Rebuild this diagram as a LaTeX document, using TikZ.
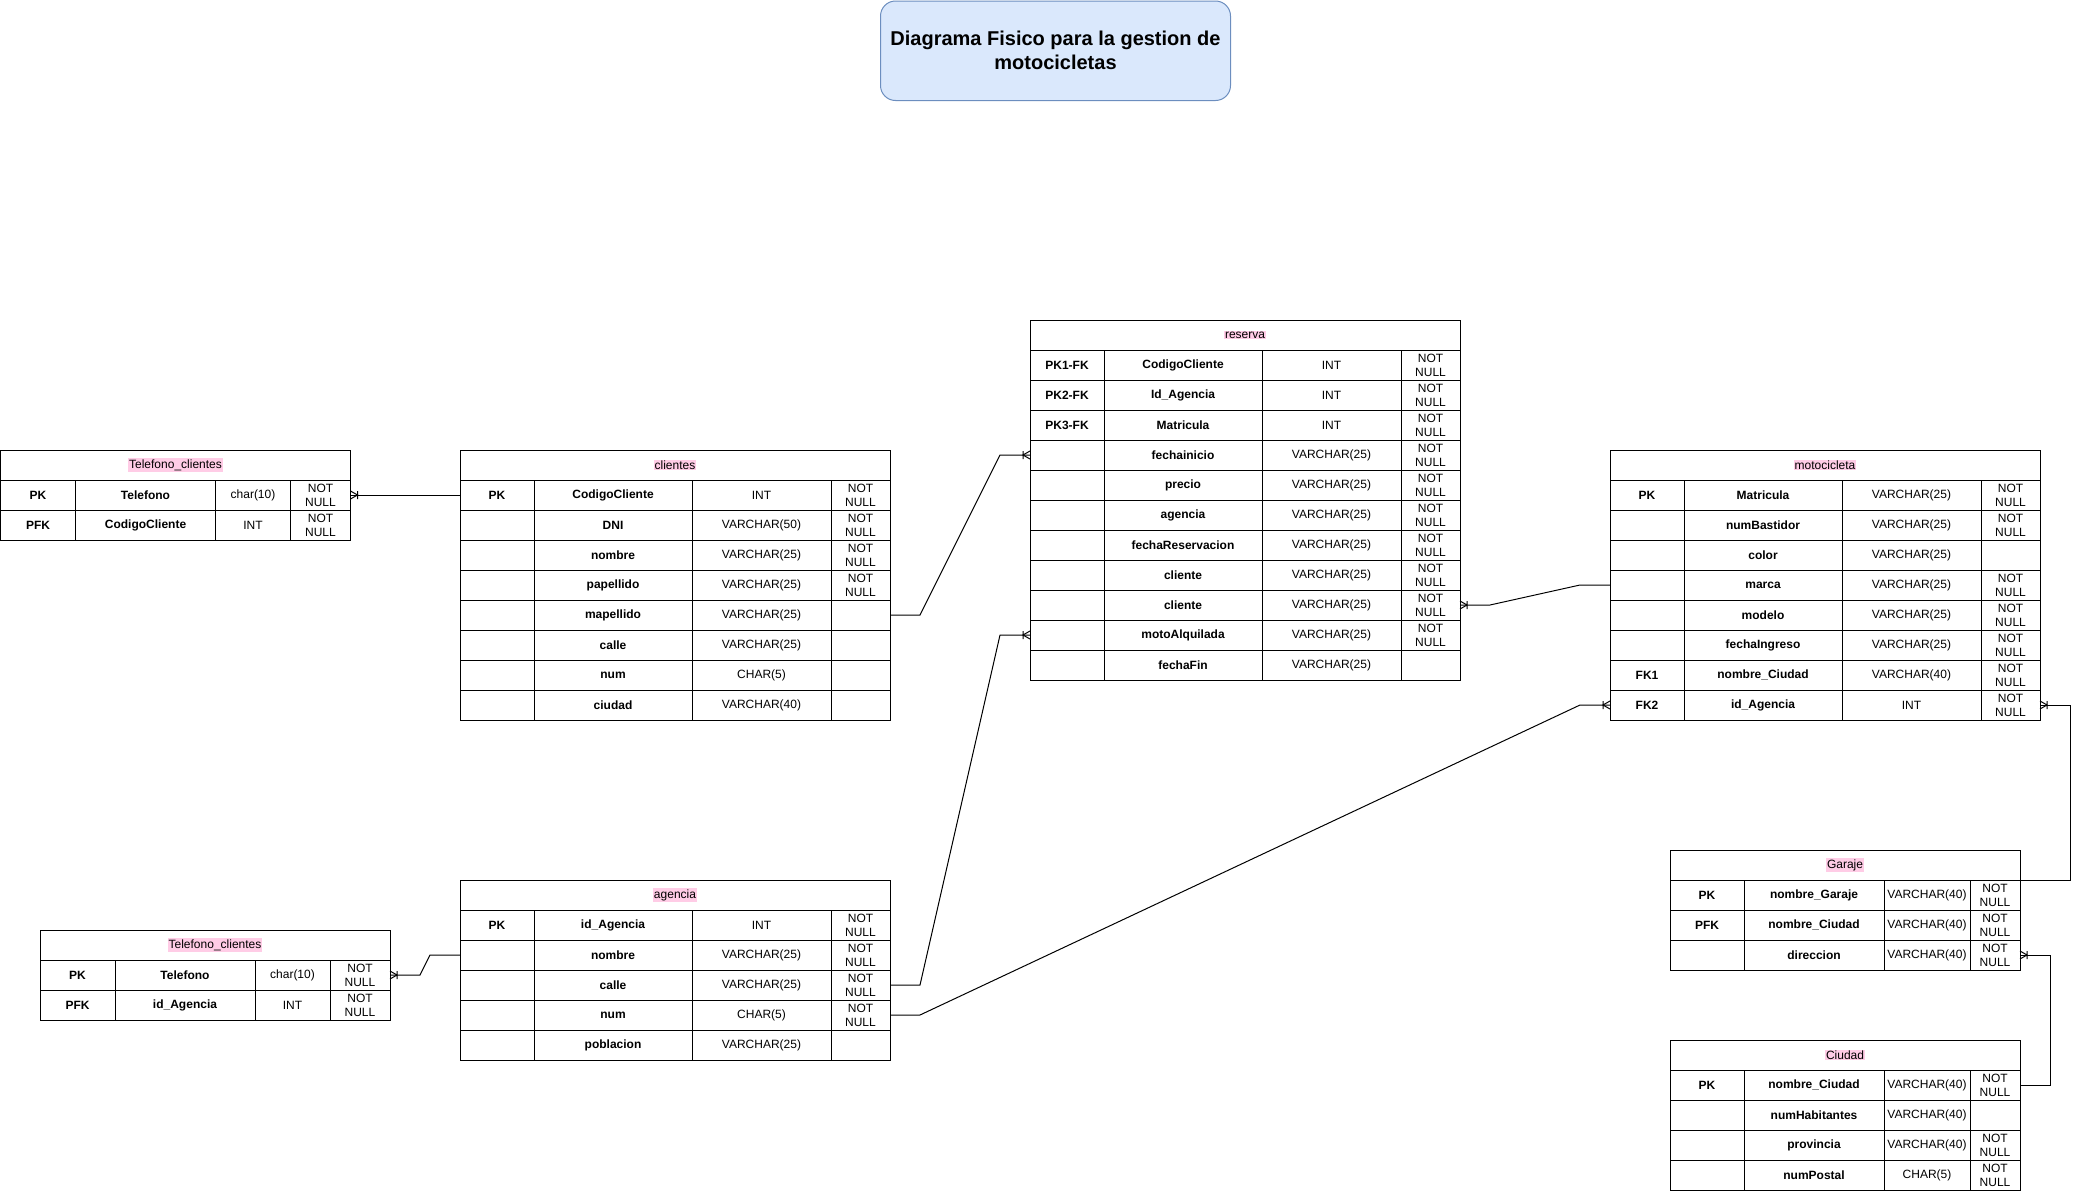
\documentclass[tikz,border=0pt]{standalone}
\usepackage{fontspec}
\setmainfont{Liberation Sans}
\usepackage{xcolor}
\usepackage{tikz}
\usetikzlibrary{positioning}

\definecolor{titlefill}{HTML}{DAE8FC}
\definecolor{titleline}{HTML}{6C8EBF}
\definecolor{tagpink}{HTML}{FFCCE6}
\setlength{\fboxsep}{1pt}

\begin{document}
\begin{tikzpicture}[x=1pt, y=-1pt,
    cell/.style={draw, line width=1pt, inner sep=0pt, outer sep=0pt, minimum height=30, align=center, font=\fontsize{12}{14}\selectfont},
    bcell/.style={cell, font=\fontsize{12}{14}\selectfont\bfseries},
    hdr/.style={cell, anchor=north west},
    link/.style={line width=1pt},
    crow/.pic={\draw[line width=1pt] (0,-4) -- (-7,0) -- (0,4) (-7,-4) -- (-7,4);}
  ]
    \useasboundingbox (0,0) rectangle (2082,1191);

    % Title
    \node[draw=titleline, fill=titlefill, line width=1pt, rounded corners=15, minimum width=350, minimum height=99.5, anchor=north west, align=center, font=\fontsize{20}{24}\selectfont\bfseries] (titulo) at (880,0.5) {Diagrama Fisico para la gestion de\\motocicletas};

    % Telefono_clientes (clientes)
    \node[hdr, minimum width=350] (tel1) at (0.5,450) {\colorbox{tagpink}{Telefono\_clientes}};
    \foreach \kc/\nc/\tc/\zc [count=\i] in {PK/Telefono/char(10)/NOT\\NULL, PFK/CodigoCliente/INT/NOT\\NULL} {
        \node[bcell, anchor=north west, minimum width=75] (tel1-k\i) at (0.5,{450+30*\i}) {\kc};
        \node[bcell, minimum width=140, right=0pt of tel1-k\i] (tel1-n\i) {\nc};
        \node[cell, minimum width=75, right=0pt of tel1-n\i] (tel1-t\i) {\tc};
        \node[cell, minimum width=60, right=0pt of tel1-t\i] (tel1-z\i) {\zc};
    }

    % clientes
    \node[hdr, minimum width=430] (clientes) at (460,450) {\colorbox{tagpink}{clientes}};
    \foreach \kc/\nc/\tc/\zc [count=\i] in {PK/CodigoCliente/INT/NOT\\NULL, /DNI/VARCHAR(50)/NOT\\NULL, /nombre/VARCHAR(25)/NOT\\NULL, /papellido/VARCHAR(25)/NOT\\NULL, /mapellido/VARCHAR(25)/, /calle/VARCHAR(25)/, /num/CHAR(5)/, /ciudad/VARCHAR(40)/} {
        \node[bcell, anchor=north west, minimum width=74] (clientes-k\i) at (460,{450+30*\i}) {\kc};
        \node[bcell, minimum width=158, right=0pt of clientes-k\i] (clientes-n\i) {\nc};
        \node[cell, minimum width=139, right=0pt of clientes-n\i] (clientes-t\i) {\tc};
        \node[cell, minimum width=59, right=0pt of clientes-t\i] (clientes-z\i) {\zc};
    }

    % reserva
    \node[hdr, minimum width=430] (reserva) at (1030,320) {\colorbox{tagpink}{reserva}};
    \foreach \kc/\nc/\tc/\zc [count=\i] in {PK1-FK/CodigoCliente/INT/NOT\\NULL, PK2-FK/Id\_Agencia/INT/NOT\\NULL, PK3-FK/Matricula/INT/NOT\\NULL, /fechainicio/VARCHAR(25)/NOT\\NULL, /precio/VARCHAR(25)/NOT\\NULL, /agencia/VARCHAR(25)/NOT\\NULL, /fechaReservacion/VARCHAR(25)/NOT\\NULL, /cliente/VARCHAR(25)/NOT\\NULL, /cliente/VARCHAR(25)/NOT\\NULL, /motoAlquilada/VARCHAR(25)/NOT\\NULL, /fechaFin/VARCHAR(25)/} {
        \node[bcell, anchor=north west, minimum width=74] (reserva-k\i) at (1030,{320+30*\i}) {\kc};
        \node[bcell, minimum width=158, right=0pt of reserva-k\i] (reserva-n\i) {\nc};
        \node[cell, minimum width=139, right=0pt of reserva-n\i] (reserva-t\i) {\tc};
        \node[cell, minimum width=59, right=0pt of reserva-t\i] (reserva-z\i) {\zc};
    }

    % motocicleta
    \node[hdr, minimum width=430] (moto) at (1610,450) {\colorbox{tagpink}{motocicleta}};
    \foreach \kc/\nc/\tc/\zc [count=\i] in {PK/Matricula/VARCHAR(25)/NOT\\NULL, /numBastidor/VARCHAR(25)/NOT\\NULL, /color/VARCHAR(25)/, /marca/VARCHAR(25)/NOT\\NULL, /modelo/VARCHAR(25)/NOT\\NULL, /fechaIngreso/VARCHAR(25)/NOT\\NULL, FK1/nombre\_Ciudad/VARCHAR(40)/NOT\\NULL, FK2/id\_Agencia/INT/NOT\\NULL} {
        \node[bcell, anchor=north west, minimum width=74] (moto-k\i) at (1610,{450+30*\i}) {\kc};
        \node[bcell, minimum width=158, right=0pt of moto-k\i] (moto-n\i) {\nc};
        \node[cell, minimum width=139, right=0pt of moto-n\i] (moto-t\i) {\tc};
        \node[cell, minimum width=59, right=0pt of moto-t\i] (moto-z\i) {\zc};
    }

    % Telefono_clientes (agencia)
    \node[hdr, minimum width=350] (tel2) at (40,930) {\colorbox{tagpink}{Telefono\_clientes}};
    \foreach \kc/\nc/\tc/\zc [count=\i] in {PK/Telefono/char(10)/NOT\\NULL, PFK/id\_Agencia/INT/NOT\\NULL} {
        \node[bcell, anchor=north west, minimum width=75] (tel2-k\i) at (40,{930+30*\i}) {\kc};
        \node[bcell, minimum width=140, right=0pt of tel2-k\i] (tel2-n\i) {\nc};
        \node[cell, minimum width=75, right=0pt of tel2-n\i] (tel2-t\i) {\tc};
        \node[cell, minimum width=60, right=0pt of tel2-t\i] (tel2-z\i) {\zc};
    }

    % agencia
    \node[hdr, minimum width=430] (agencia) at (460,880) {\colorbox{tagpink}{agencia}};
    \foreach \kc/\nc/\tc/\zc [count=\i] in {PK/id\_Agencia/INT/NOT\\NULL, /nombre/VARCHAR(25)/NOT\\NULL, /calle/VARCHAR(25)/NOT\\NULL, /num/CHAR(5)/NOT\\NULL, /poblacion/VARCHAR(25)/} {
        \node[bcell, anchor=north west, minimum width=74] (agencia-k\i) at (460,{880+30*\i}) {\kc};
        \node[bcell, minimum width=158, right=0pt of agencia-k\i] (agencia-n\i) {\nc};
        \node[cell, minimum width=139, right=0pt of agencia-n\i] (agencia-t\i) {\tc};
        \node[cell, minimum width=59, right=0pt of agencia-t\i] (agencia-z\i) {\zc};
    }

    % Garaje
    \node[hdr, minimum width=350] (garaje) at (1670,850) {\colorbox{tagpink}{Garaje}};
    \foreach \kc/\nc/\tc/\zc [count=\i] in {PK/nombre\_Garaje/VARCHAR(40)/NOT\\NULL, PFK/nombre\_Ciudad/VARCHAR(40)/NOT\\NULL, /direccion/VARCHAR(40)/NOT\\NULL} {
        \node[bcell, anchor=north west, minimum width=74] (garaje-k\i) at (1670,{850+30*\i}) {\kc};
        \node[bcell, minimum width=140, right=0pt of garaje-k\i] (garaje-n\i) {\nc};
        \node[cell, minimum width=86, right=0pt of garaje-n\i] (garaje-t\i) {\tc};
        \node[cell, minimum width=50, right=0pt of garaje-t\i] (garaje-z\i) {\zc};
    }

    % Ciudad
    \node[hdr, minimum width=350] (ciudad) at (1670,1040) {\colorbox{tagpink}{Ciudad}};
    \foreach \kc/\nc/\tc/\zc [count=\i] in {PK/nombre\_Ciudad/VARCHAR(40)/NOT\\NULL, /numHabitantes/VARCHAR(40)/, /provincia/VARCHAR(40)/NOT\\NULL, /numPostal/CHAR(5)/NOT\\NULL} {
        \node[bcell, anchor=north west, minimum width=74] (ciudad-k\i) at (1670,{1040+30*\i}) {\kc};
        \node[bcell, minimum width=140, right=0pt of ciudad-k\i] (ciudad-n\i) {\nc};
        \node[cell, minimum width=86, right=0pt of ciudad-n\i] (ciudad-t\i) {\tc};
        \node[cell, minimum width=50, right=0pt of ciudad-t\i] (ciudad-z\i) {\zc};
    }

    % Relaciones
    \draw[link] (clientes-k1.west) -- (tel1-z1.east) pic[rotate=180] {crow};
    \draw[link] (clientes-z5.east) -- ++(30,0) -- ([xshift=-30pt]reserva-k4.west) -- (reserva-k4.west) pic {crow};
    \draw[link] (agencia-z3.east) -- ++(30,0) -- ([xshift=-30pt]reserva-k10.west) -- (reserva-k10.west) pic {crow};
    \draw[link] (agencia-z4.east) -- ++(30,0) -- ([xshift=-30pt]moto-k8.west) -- (moto-k8.west) pic {crow};
    \draw[link] (moto-k4.west) -- ++(-30,0) -- ([xshift=30pt]reserva-z9.east) -- (reserva-z9.east) pic[rotate=180] {crow};
    \draw[link] (agencia-k2.west) -- ++(-30,0) -- ([xshift=30pt]tel2-z1.east) -- (tel2-z1.east) pic[rotate=180] {crow};
    \draw[link] (garaje.south east) -- ++(50,0) |- (moto-z8.east) pic[rotate=180] {crow};
    \draw[link] (ciudad-z1.east) -- ++(30,0) |- (garaje-z3.east) pic[rotate=180] {crow};
\end{tikzpicture}
\end{document}
